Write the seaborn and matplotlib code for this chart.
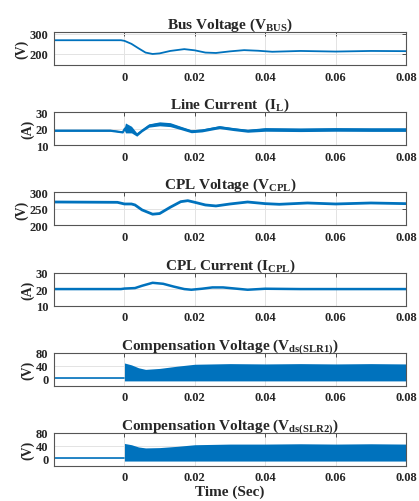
import seaborn as sns
import matplotlib.pyplot as plt

# ---- data (time in s) ----
t_bus = [-0.02, -0.001, 0.0, 0.002, 0.004, 0.006, 0.008, 0.010, 0.013, 0.017, 0.020,
         0.023, 0.026, 0.030, 0.034, 0.038, 0.042, 0.050, 0.060, 0.070, 0.080]
v_bus = [268, 268, 265, 250, 228, 207, 200, 203, 215, 224, 218,
         207, 205, 213, 219, 216, 211, 215, 212, 215, 214]

t_il = [-0.02, -0.004, -0.0005, 0.0, 0.0003, 0.002, 0.0035, 0.005, 0.007, 0.010, 0.013,
        0.016, 0.019, 0.022, 0.027, 0.031, 0.035, 0.040, 0.050, 0.060, 0.070, 0.080]
il_mid = [19, 19, 18, 20, 20.5, 19.5, 16.5, 19, 22, 23, 22.5,
          20.5, 18.5, 19, 21, 19.8, 18.8, 19.6, 19.4, 19.6, 19.5, 19.5]
il_half = [0.6, 0.6, 0.6, 1.0, 3.0, 2.0, 1.0, 0.8, 1.0, 1.2, 1.2,
           1.0, 0.9, 0.9, 0.9, 0.9, 0.9, 1.1, 1.1, 1.1, 1.1, 1.1]

t_vcpl = [-0.02, -0.002, 0.0, 0.002, 0.003, 0.005, 0.008, 0.010, 0.013, 0.016, 0.018,
          0.020, 0.023, 0.026, 0.030, 0.035, 0.040, 0.044, 0.052, 0.060, 0.070, 0.080]
v_cpl = [271, 270, 265, 265, 262, 247, 234, 236, 255, 272, 275,
         270, 262, 259, 265, 271, 266, 264, 268, 265, 268, 266]

t_icpl = [-0.02, -0.001, 0.0, 0.003, 0.005, 0.008, 0.011, 0.014, 0.017, 0.019,
          0.022, 0.025, 0.028, 0.031, 0.035, 0.040, 0.050, 0.060, 0.070, 0.080]
i_cpl = [20, 20, 20.3, 20.6, 22, 23.8, 23.2, 21.5, 20, 19.6,
         20.2, 21, 21, 20.4, 19.6, 20.2, 20, 20, 20, 20]

t_off = [-0.02, 0.0]
v_off = [0, 0]
t_sw = [0.0, 0.002, 0.004, 0.006, 0.010, 0.015, 0.020, 0.030, 0.040, 0.050, 0.060, 0.070, 0.080]
vds1_top = [48, 42, 33, 28, 31, 38, 44, 46, 45, 46, 45, 46, 45]
vds2_top = [47, 43, 36, 33, 34, 38, 43, 45, 45, 46, 45, 46, 45]
vds_bot = [-8, -8, -8, -8, -8, -8, -8, -8, -8, -8, -8, -8, -8]

titles = [r"Bus Voltage ($\mathbf{V_{BUS}}$)",
          r"Line Current  ($\mathbf{I_{L}}$)",
          r"CPL Voltage ($\mathbf{V_{CPL}}$)",
          r"CPL Current ($\mathbf{I_{CPL}}$)",
          r"Compensation Voltage ($\mathbf{V_{ds(SLR1)}}$)",
          r"Compensation Voltage ($\mathbf{V_{ds(SLR2)}}$)"]
units = ["(V)", "(A)", "(V)", "(A)", "(V)", "(V)"]
yticks = [[200, 300], [10, 20, 30], [200, 250, 300], [10, 20, 30], [0, 40, 80], [0, 40, 80]]
ylims = [(145, 308), (10, 30), (200, 300), (10, 30), (-23, 80), (-23, 80)]
xticks = [0, 0.02, 0.04, 0.06, 0.08]
xlabels = ["0", "0.02", "0.04", "0.06", "0.08"]

sns.set_style("whitegrid")
plt.rcParams['font.family'] = ['Liberation Serif', 'DejaVu Serif']
plt.rcParams['font.weight'] = 'bold'
plt.rcParams['mathtext.fontset'] = 'custom'
plt.rcParams['mathtext.bf'] = 'Liberation Serif:bold'
plt.rcParams['mathtext.rm'] = 'Liberation Serif:bold'

blue = '#0072BD'
fig, axes = plt.subplots(6, 1, figsize=(4.19, 5.02), dpi=100)
fig.subplots_adjust(left=0.129, right=0.969, top=0.934, bottom=0.070, hspace=1.43)

sns.lineplot(x=t_bus, y=v_bus, ax=axes[0], color=blue, lw=1.3)

axes[1].fill_between(t_il, [m - h for m, h in zip(il_mid, il_half)],
                     [m + h for m, h in zip(il_mid, il_half)], color=blue, lw=0)
sns.lineplot(x=t_il, y=il_mid, ax=axes[1], color=blue, lw=1.2)

sns.lineplot(x=t_vcpl, y=v_cpl, ax=axes[2], color=blue, lw=2.0)
sns.lineplot(x=t_icpl, y=i_cpl, ax=axes[3], color=blue, lw=1.8)

for ax, top in zip(axes[4:], [vds1_top, vds2_top]):
    sns.lineplot(x=t_off, y=v_off, ax=ax, color=blue, lw=1.2)
    ax.fill_between(t_sw, vds_bot, top, color=blue, lw=0)

for i, ax in enumerate(axes):
    ax.set_xlim(-0.02, 0.08)
    ax.set_ylim(*ylims[i])
    ax.set_xticks(xticks)
    ax.set_xticklabels(xlabels)
    ax.set_yticks(yticks[i])
    ax.set_title(titles[i], fontsize=11, fontweight='bold', pad=3)
    ax.set_ylabel(units[i], fontsize=10, fontweight='bold', labelpad=1)
    ax.tick_params(direction='in', top=True, right=True, length=3, width=0.6,
                   labelsize=9, pad=4, color='#333333')
    ax.grid(True, color='#e3e3e3', lw=0.7)
    for s in ax.spines.values():
        s.set_color('#555555')
        s.set_linewidth(0.8)
    for lab in ax.get_xticklabels() + ax.get_yticklabels():
        lab.set_fontweight('bold')

axes[-1].set_xlabel("Time (Sec)", fontsize=11, fontweight='bold', labelpad=1)

fig.savefig("out.png", dpi=100)
